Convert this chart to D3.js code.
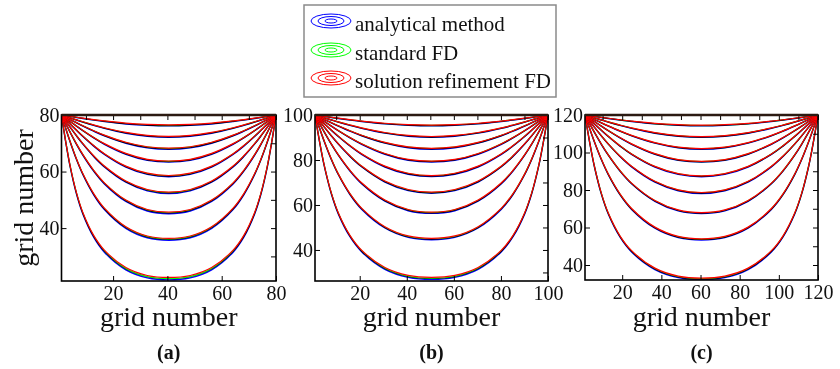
<!DOCTYPE html>
<html>
<head>
<meta charset="utf-8">
<script src="https://d3js.org/d3.v7.min.js"></script>
<style>
    body { margin: 0; background: #fff; }
    svg { display: block; }
</style>
</head>
<body>
<svg id="chart" width="840" height="369"></svg>
<script>
// Three runs: (a) 80x80, (b) 100x100, (c) 120x120 grid
const panelNames = ['(a)', '(b)', '(c)'];
const gridSizes = [80, 100, 120];
const yAxisMins = [21.3, 26.2, 32];
const xTickValues = [[20, 40, 60, 80], [20, 40, 60, 80, 100], [20, 40, 60, 80, 100, 120]];
const yTickValues = [[40, 60, 80], [40, 60, 80, 100], [40, 60, 80, 100, 120]];

const methods = ['analytical method', 'standard FD', 'solution refinement FD'];
const methodColors = ['#0000ff', '#00ff00', '#ff0000'];

// Contour levels 0.9 ... 0.1 (left half, the curves are symmetric).
// x as fraction of the width, depth as fraction of the height below the top row.
const halfX = [0, 0.01, 0.02, 0.04, 0.07, 0.1, 0.15, 0.2, 0.3, 0.4, 0.5];
const depth90 = [0, 0.0016, 0.0032, 0.0063, 0.0110, 0.0155, 0.0227, 0.0292, 0.0400, 0.0463, 0.0487];
const depth80 = [0, 0.0032, 0.0065, 0.0129, 0.0225, 0.0318, 0.0465, 0.0598, 0.0815, 0.0953, 0.1000];
const depth70 = [0, 0.0051, 0.0102, 0.0203, 0.0352, 0.0497, 0.0726, 0.0933, 0.1263, 0.1470, 0.1537];
const depth60 = [0, 0.0073, 0.0145, 0.0289, 0.0501, 0.0707, 0.1027, 0.1314, 0.1762, 0.2032, 0.2110];
const depth50 = [0, 0.0100, 0.0200, 0.0398, 0.0687, 0.0965, 0.1393, 0.1767, 0.2335, 0.2660, 0.2765];
const depth40 = [0, 0.0137, 0.0275, 0.0546, 0.0937, 0.1306, 0.1858, 0.2325, 0.3009, 0.3395, 0.3515];
const depth30 = [0, 0.0196, 0.0391, 0.0771, 0.1312, 0.1803, 0.2513, 0.3084, 0.3870, 0.4298, 0.4419];
const depth20 = [0, 0.0307, 0.0610, 0.1196, 0.1995, 0.2674, 0.3570, 0.4231, 0.5074, 0.5495, 0.5605];
const depth10 = [0, 0.0626, 0.1228, 0.2298, 0.3537, 0.4440, 0.5467, 0.6140, 0.6930, 0.7290, 0.7380];
const levelDepths = [depth90, depth80, depth70, depth60, depth50, depth40, depth30, depth20, depth10];

// how far the FD contours sit above the analytical ones at mid-width (grid units), per level
const standardFdLift = [0.15, 0.15, 0.2, 0.2, 0.25, 0.25, 0.3, 0.35, 0.45];
const refinementFdLift = [0.35, 0.35, 0.4, 0.4, 0.45, 0.5, 0.55, 0.65, 0.85];
const methodLifts = [null, standardFdLift, refinementFdLift];

const serif = '"Liberation Serif", "Times New Roman", serif';
const svg = d3.select('#chart');

// plot boxes in pixels
const boxes = [
    { left: 61.5, right: 276, top: 115, bottom: 281 },
    { left: 315, right: 548, top: 115, bottom: 281 },
    { left: 585, right: 818, top: 115, bottom: 280 }
];

function curvePoints(level, n, lift) {
    const d = levelDepths[level];
    const pts = [];
    halfX.forEach((f, i) => {
        const up = lift ? lift[level] * (d[i] / d[d.length - 1]) : 0;
        pts.push([1 + f * (n - 1), n - d[i] * (n - 1) + up]);
    });
    for (let i = halfX.length - 2; i >= 0; i--) {
        const up = lift ? lift[level] * (d[i] / d[d.length - 1]) : 0;
        pts.push([1 + (1 - halfX[i]) * (n - 1), n - d[i] * (n - 1) + up]);
    }
    return pts;
}

gridSizes.forEach((n, p) => {
    const b = boxes[p];
    const x = d3.scaleLinear().domain([1, n]).range([b.left, b.right]);
    const y = d3.scaleLinear().domain([yAxisMins[p], n]).range([b.bottom, b.top]);

    const g = svg.append('g');

    svg.append('clipPath').attr('id', 'clip' + p)
        .append('rect')
        .attr('x', b.left).attr('y', b.top - 1)
        .attr('width', b.right - b.left).attr('height', b.bottom - b.top + 1);

    const line = d3.line()
        .x(d => x(d[0]))
        .y(d => y(d[1]))
        .curve(d3.curveCatmullRom);

    const plot = g.append('g')
        .attr('clip-path', `url(#clip${p})`)
        .style('isolation', 'isolate');
    methods.forEach((m, k) => {
        levelDepths.forEach((_, lv) => {
            plot.append('path')
                .attr('d', line(curvePoints(lv, n, methodLifts[k])))
                .attr('fill', 'none')
                .attr('stroke', methodColors[k])
                .attr('stroke-width', k === 2 ? 1.2 : 1.4)
                // blue and green overlap darkly, red sits on top
                .style('mix-blend-mode', k === 2 ? 'normal' : 'multiply');
        });
    });

    // axes: labelled ticks left/bottom, every 10 on right/top
    const minor = d3.range(Math.ceil(yAxisMins[p] / 10) * 10, n + 1, 10);
    const minorX = d3.range(10, n + 1, 10);

    const styleAxis = sel => {
        sel.select('.domain').remove();
        sel.attr('font-family', serif).attr('font-size', 20);
        sel.selectAll('line').attr('stroke', '#000').attr('stroke-width', 1);
        sel.selectAll('text')
            .style('font-family', serif)
            .style('font-size', '20px')
            .attr('fill', '#111');
    };

    g.append('g').attr('transform', `translate(${b.left},0)`)
        .call(d3.axisLeft(y).tickValues(yTickValues[p]).tickSize(-5).tickPadding(2))
        .call(styleAxis);
    g.append('g').attr('transform', `translate(0,${b.bottom})`)
        .call(d3.axisBottom(x).tickValues(xTickValues[p]).tickSize(-5).tickPadding(5))
        .call(styleAxis);
    g.append('g').attr('transform', `translate(${b.right},0)`)
        .call(d3.axisRight(y).tickValues(minor).tickSize(-5).tickFormat(''))
        .call(styleAxis);
    g.append('g').attr('transform', `translate(0,${b.top})`)
        .call(d3.axisTop(x).tickValues(minorX).tickSize(-5).tickFormat(''))
        .call(styleAxis);

    // frame
    g.append('rect')
        .attr('x', b.left).attr('y', b.top)
        .attr('width', b.right - b.left).attr('height', b.bottom - b.top)
        .attr('fill', 'none').attr('stroke', '#000').attr('stroke-width', 1.6);
    g.append('line')
        .attr('x1', b.left).attr('x2', b.right)
        .attr('y1', b.top).attr('y2', b.top)
        .attr('stroke', '#2b1a12').attr('stroke-width', 2.6);

    // titles
    g.append('text')
        .attr('x', (b.left + b.right) / 2).attr('y', 326)
        .attr('text-anchor', 'middle')
        .style('font-family', serif)
        .style('font-size', '28px')
        .attr('fill', '#111')
        .text('grid number');

    g.append('text')
        .attr('x', (b.left + b.right) / 2).attr('y', 359)
        .attr('text-anchor', 'middle')
        .style('font-family', serif)
        .style('font-size', '20px')
        .style('font-weight', 'bold')
        .attr('fill', '#111')
        .text(panelNames[p]);

    if (p === 0) {
        g.append('text')
            .attr('transform', `translate(33,${(b.top + b.bottom) / 2}) rotate(-90)`)
            .attr('text-anchor', 'middle')
            .style('font-family', serif)
            .style('font-size', '28px')
            .attr('fill', '#111')
            .text('grid number');
    }
});

// legend
const legend = svg.append('g');
legend.append('rect')
    .attr('x', 304).attr('y', 5)
    .attr('width', 252).attr('height', 92)
    .attr('fill', '#fff').attr('stroke', '#8a8a8a').attr('stroke-width', 1.5);

const rowY = [21, 50, 78];
methods.forEach((m, i) => {
    const row = legend.append('g').attr('transform', `translate(331,${rowY[i]})`);
    [[20, 7], [13, 4.5], [6, 2]].forEach(r => {
        row.append('ellipse')
            .attr('rx', r[0]).attr('ry', r[1])
            .attr('fill', 'none')
            .attr('stroke', methodColors[i])
            .attr('stroke-width', 1);
    });
    row.append('text')
        .attr('x', 24).attr('y', 10)
        .style('font-family', serif)
        .style('font-size', '21px')
        .attr('fill', '#111')
        .text(m);
});
</script>
</body>
</html>
